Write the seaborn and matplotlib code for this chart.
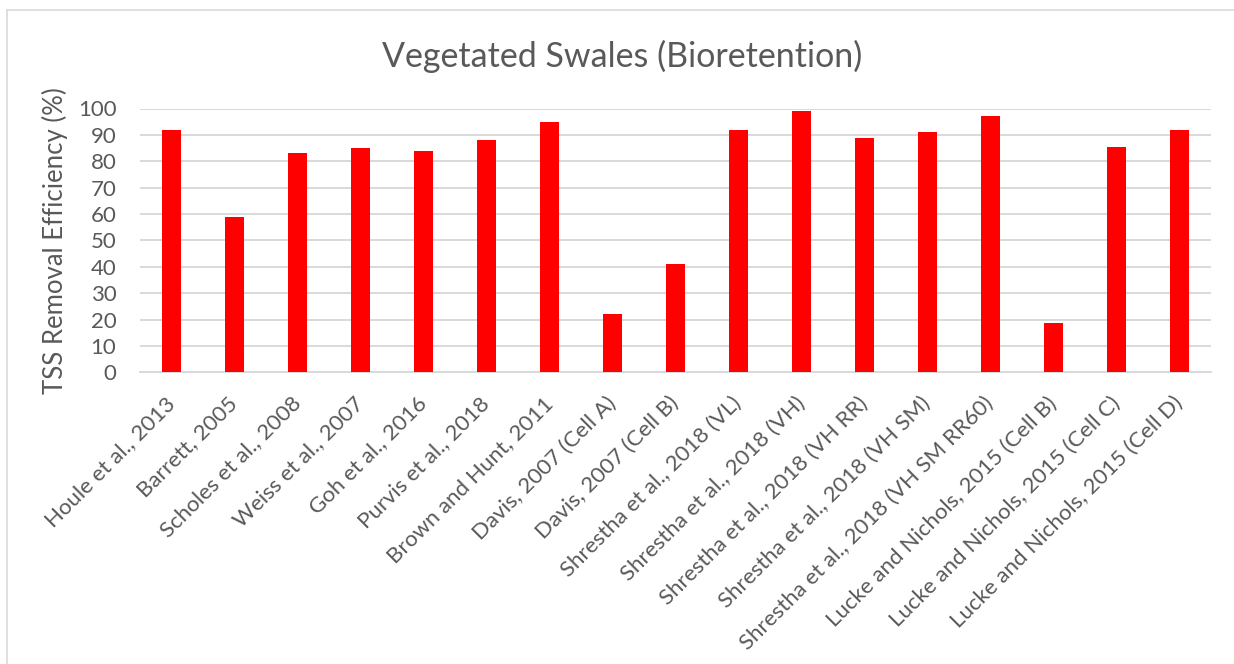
import matplotlib
matplotlib.use("Agg")
import matplotlib.pyplot as plt
import seaborn as sns
import pandas as pd
from matplotlib.lines import Line2D

studies = [
    "Houle et al., 2013", "Barrett, 2005", "Scholes et al., 2008",
    "Weiss et al., 2007", "Goh et al., 2016", "Purvis et al., 2018",
    "Brown and Hunt, 2011", "Davis, 2007 (Cell A)", "Davis, 2007 (Cell B)",
    "Shrestha et al., 2018 (VL)", "Shrestha et al., 2018 (VH)",
    "Shrestha et al., 2018 (VH RR)", "Shrestha et al., 2018 (VH SM)",
    "Shrestha et al., 2018 (VH SM RR60)", "Lucke and Nichols, 2015 (Cell B)",
    "Lucke and Nichols, 2015 (Cell C)", "Lucke and Nichols, 2015 (Cell D)",
]
tss_removal = [92, 59, 83, 85, 83.7, 88, 94.7, 22, 41, 92, 99, 89, 91, 97, 18.8, 85.3, 91.8]
y_ticks = [0, 10, 20, 30, 40, 50, 60, 70, 80, 90, 100]

title = "Vegetated Swales (Bioretention)"
ylabel = "TSS Removal Efficiency (%)"

df = pd.DataFrame({"study": studies, "tss": tss_removal})

sns.set_style("white")
plt.rcParams["font.family"] = ["Lato", "DejaVu Sans"]

text_color = "#595959"
grid_color = "#d9d9d9"

fig = plt.figure(figsize=(12.34, 6.64), dpi=100)
ax = fig.add_axes([140 / 1234, 1 - 372.3 / 664, (1211 - 140) / 1234, (372.3 - 108.5) / 664])

sns.barplot(data=df, x="study", y="tss", color="#ff0000", saturation=1,
            width=0.317, ax=ax, zorder=3, edgecolor="none")

ax.set_ylim(0, 100)
ax.set_xlim(-0.5, len(studies) - 0.5)
ax.set_yticks(y_ticks)
ax.yaxis.grid(True, color=grid_color, linewidth=1.4, zorder=0)
ax.set_axisbelow(True)
for s in ["top", "right", "left"]:
    ax.spines[s].set_visible(False)
ax.spines["bottom"].set_color(grid_color)
ax.spines["bottom"].set_linewidth(1.4)
ax.tick_params(axis="both", length=0, colors=text_color)
ax.tick_params(axis="y", pad=17, labelsize=16)
ax.tick_params(axis="x", pad=20, labelsize=16)
ax.set_xticks(range(len(studies)))
ax.set_xticklabels(studies, rotation=45, ha="right", va="center", rotation_mode="anchor")
ax.set_xlabel("")
ax.set_ylabel(ylabel, color=text_color, fontsize=18.5, labelpad=7)

fig.text(622 / 1234, 1 - 66.7 / 664, title, ha="center", va="baseline",
         color=text_color, fontsize=24.5)

# chart border (gray frame)
fig.add_artist(Line2D([7 / 1234, 1], [1 - 10 / 664] * 2, transform=fig.transFigure,
                      color="#d9d9d9", linewidth=1.2))
fig.add_artist(Line2D([7 / 1234] * 2, [0, 1 - 10 / 664], transform=fig.transFigure,
                      color="#d9d9d9", linewidth=1.2))

fig.savefig("out.png", dpi=100)
